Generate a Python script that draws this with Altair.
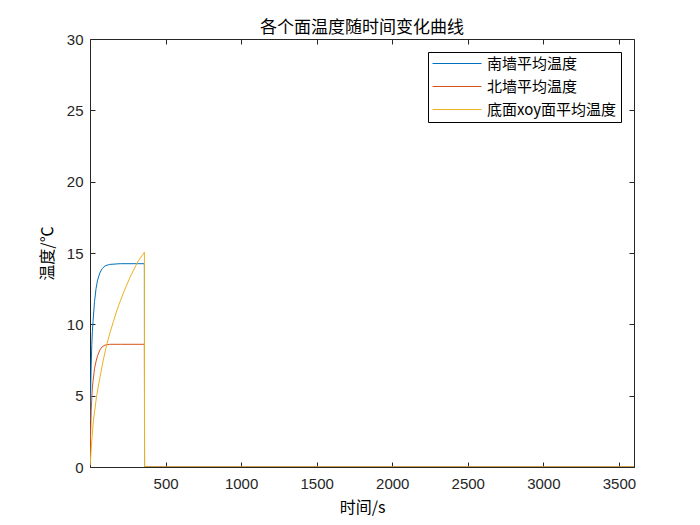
import altair as alt
import pandas as pd

# ---- data ----
series_names = ["南墙平均温度", "北墙平均温度", "底面xoy面平均温度"]
series_colors = ["#0072BD", "#D95319", "#EDB120"]

south_t = [1, 4, 8, 12, 16, 20, 30, 40, 50, 65, 80, 100, 130, 200, 360, 361, 3600]
south_v = [3.2, 5.2, 7.2, 8.6, 9.5, 10.2, 11.6, 12.5, 13.1, 13.6, 13.9, 14.1, 14.2, 14.25, 14.25, 0, 0]

north_t = [1, 4, 8, 12, 16, 20, 30, 40, 50, 65, 80, 100, 130, 200, 360, 361, 3600]
north_v = [0.6, 2.4, 3.9, 4.9, 5.6, 6.0, 6.9, 7.4, 7.8, 8.2, 8.42, 8.55, 8.6, 8.6, 8.6, 0, 0]

floor_t = [1, 10, 22, 44, 66, 88, 110, 132, 155, 177, 199, 221, 243, 265, 288, 320, 360, 361, 3600]
floor_v = [0.1, 1.6, 3.2, 5.0, 6.3, 7.5, 8.55, 9.4, 10.2, 10.95, 11.6, 12.2, 12.75, 13.3, 13.8, 14.45, 15.05, 0, 0]

x_ticks = [500, 1000, 1500, 2000, 2500, 3000, 3500]
y_ticks = [0, 5, 10, 15, 20, 25, 30]

rows = []
for k, (name, ts, vs) in enumerate(zip(series_names, [south_t, north_t, floor_t], [south_v, north_v, floor_v])):
    for t, v in zip(ts, vs):
        rows.append({"series": name, "t": t, "v": v, "k": k})
df = pd.DataFrame(rows)

W, H = 544, 428
INK = "#262626"

x_scale = alt.Scale(domain=[0, 3600], nice=False, zero=False)
y_scale = alt.Scale(domain=[0, 30], nice=False, zero=False)

base = alt.Chart(df)

lines = base.mark_line(strokeWidth=1, clip=True).encode(
    x=alt.X("t:Q", scale=x_scale,
            axis=alt.Axis(values=x_ticks, format="d", title="时间/s", tickSize=0, domain=False,
                          grid=False, labelPadding=9, titlePadding=8)),
    y=alt.Y("v:Q", scale=y_scale,
            axis=alt.Axis(values=y_ticks, format="d", title="温度/℃", tickSize=0, domain=False,
                          grid=False, labelPadding=7, titlePadding=11)),
    color=alt.Color("series:N",
                    scale=alt.Scale(domain=series_names, range=series_colors),
                    legend=alt.Legend(title=None, orient="none", legendX=338, legendY=13,
                                      symbolType="stroke", symbolSize=2401, symbolStrokeWidth=1,
                                      clipHeight=15,
                                      labelFont="Noto Sans CJK SC", labelFontSize=15,
                                      labelColor="#000000", labelOffset=5,
                                      padding=4, rowPadding=7,
                                      strokeColor="#000000", fillColor="#ffffff",
                                      cornerRadius=0)),
    order=alt.Order("t:Q"),
    detail="k:Q",
)

ticks_in_a = base.mark_line(opacity=0).encode(
    x=alt.X("t:Q", scale=x_scale,
            axis=alt.Axis(orient="top", offset=-H, values=x_ticks, labels=False, title=None,
                          domain=False, grid=False, tickSize=5, tickColor=INK)),
    y=alt.Y("v:Q", scale=y_scale,
            axis=alt.Axis(orient="right", offset=-W, values=y_ticks, labels=False, title=None,
                          domain=False, grid=False, tickSize=5, tickColor=INK)),
)

ticks_in_b = base.mark_line(opacity=0).encode(
    x=alt.X("t:Q", scale=x_scale,
            axis=alt.Axis(orient="bottom", offset=-H, values=x_ticks, labels=False, title=None,
                          domain=False, grid=False, tickSize=5, tickColor=INK)),
    y=alt.Y("v:Q", scale=y_scale,
            axis=alt.Axis(orient="left", offset=-W, values=y_ticks, labels=False, title=None,
                          domain=False, grid=False, tickSize=5, tickColor=INK)),
)

chart = alt.layer(ticks_in_a, ticks_in_b, lines).resolve_axis(
    x="independent", y="independent"
).properties(
    width=W, height=H,
    title=alt.TitleParams("各个面温度随时间变化曲线", font="Noto Sans CJK SC", fontSize=17,
                          fontWeight="normal", color="#000000", anchor="middle", offset=6, dy=11),
    autosize=alt.AutoSizeParams(type="none"),
    padding={"left": 82, "top": 31, "right": 50, "bottom": 50},
    background="#ffffff",
).configure_view(
    stroke=INK, strokeWidth=1
).configure_axis(
    labelFont="Liberation Sans", labelFontSize=15, labelColor=INK,
    titleFont="Noto Sans CJK SC", titleFontSize=16, titleFontWeight="normal", titleColor="#000000",
)

chart.save("out.html", embed_options={"renderer": "svg", "actions": False})
